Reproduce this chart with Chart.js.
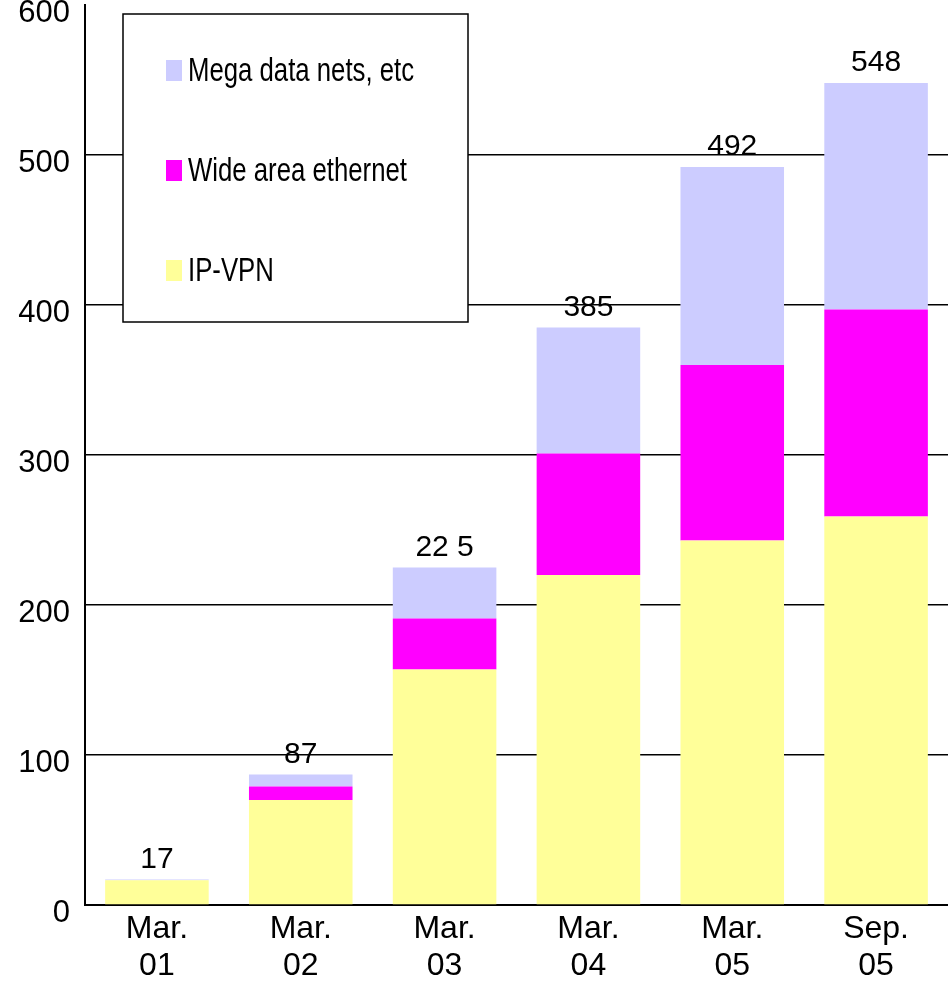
<!DOCTYPE html>
<html>
<head>
<meta charset="utf-8">
<script src="https://cdn.jsdelivr.net/npm/chart.js@4"></script>
<style>
  html, body { margin: 0; padding: 0; background: #fff; }
  #wrap { width: 948px; height: 989px; }
</style>
</head>
<body>
<div id="wrap"><canvas id="bar-chart"></canvas></div>
<script>
// data
var categories = [["Mar.", "01"], ["Mar.", "02"], ["Mar.", "03"], ["Mar.", "04"], ["Mar.", "05"], ["Sep.", "05"]];
var ipVpn = [16.5, 70, 157, 220, 243, 259];
var wideEthernet = [0, 9, 34, 81, 117, 138];
var megaData = [0.5, 8, 34, 84, 132, 151];
var totalLabels = ["17", "87", "22 5", "385", "492", "548"];
var yTicks = [0, 100, 200, 300, 400, 500, 600];

var arial = "'Liberation Sans', Arial, sans-serif";

// totals above each stack
var totalsPlugin = {
    id: 'totals',
    afterDatasetsDraw: function (chart) {
        var ctx = chart.ctx;
        var y = chart.scales.y;
        ctx.save();
        ctx.fillStyle = '#000';
        ctx.font = '30px ' + arial;
        ctx.textAlign = 'center';
        ctx.textBaseline = 'alphabetic';
        var meta = chart.getDatasetMeta(0);
        for (var i = 0; i < categories.length; i++) {
            var sum = ipVpn[i] + wideEthernet[i] + megaData[i];
            ctx.fillText(totalLabels[i], meta.data[i].x, y.getPixelForValue(sum) - 12);
        }
        ctx.restore();
    }
};

// boxed legend inside the plot
var legendBox = {
    id: 'legendBox',
    afterDraw: function (chart) {
        var ctx = chart.ctx;
        ctx.save();
        ctx.fillStyle = '#fff';
        ctx.fillRect(123, 14, 345, 308);
        ctx.strokeStyle = '#000';
        ctx.lineWidth = 1.5;
        ctx.strokeRect(123, 14, 345, 308);
        var rows = [2, 1, 0];
        ctx.font = '33px ' + arial;
        ctx.textBaseline = 'middle';
        for (var r = 0; r < rows.length; r++) {
            var ds = chart.data.datasets[rows[r]];
            var cy = 70 + r * 100;
            ctx.fillStyle = ds.backgroundColor;
            ctx.fillRect(166, cy - 10, 16, 21);
            ctx.fillStyle = '#000';
            ctx.save();
            ctx.translate(188, cy);
            ctx.scale(0.78, 1);
            ctx.fillText(ds.label, 0, 2);
            ctx.restore();
        }
        ctx.restore();
    }
};

new Chart(document.getElementById("bar-chart"), {
    type: 'bar',
    data: {
        labels: categories,
        datasets: [
            { label: "IP-VPN", data: ipVpn, backgroundColor: "#FFFF99" },
            { label: "Wide area ethernet", data: wideEthernet, backgroundColor: "#FF00FF" },
            { label: "Mega data nets, etc", data: megaData, backgroundColor: "#CCCCFF" }
        ]
    },
    options: {
        responsive: true,
        maintainAspectRatio: false,
        animation: false,
        layout: { padding: { top: 5, right: 0, left: 0, bottom: 0 } },
        datasets: { bar: { categoryPercentage: 1, barPercentage: 0.72 } },
        plugins: {
            legend: { display: false },
            tooltip: { enabled: false }
        },
        scales: {
            x: {
                stacked: true,
                grid: { display: false, drawTicks: false },
                border: { color: '#000', width: 2 },
                ticks: {
                    color: '#000',
                    font: { family: arial, size: 32, lineHeight: 1.15 },
                    padding: 6,
                    maxRotation: 0
                },
                afterFit: function (s) { s.height = 84; s.paddingLeft = 0; s.paddingRight = 0; }
            },
            y: {
                stacked: true,
                min: 0,
                max: 600,
                afterBuildTicks: function (s) {
                    s.ticks = yTicks.map(function (v) { return { value: v }; });
                },
                grid: {
                    color: function (c) { return c.tick && c.tick.value === 600 ? 'rgba(0,0,0,0)' : '#000'; },
                    lineWidth: 1.5,
                    drawTicks: false
                },
                border: { color: '#000', width: 2 },
                ticks: {
                    color: '#000',
                    font: { family: arial, size: 31 },
                    padding: 15,
                    labelOffset: 8
                },
                afterFit: function (s) { s.width = 85; s.paddingTop = 0; s.paddingBottom = 0; }
            }
        }
    },
    plugins: [totalsPlugin, legendBox]
});
</script>
</body>
</html>
